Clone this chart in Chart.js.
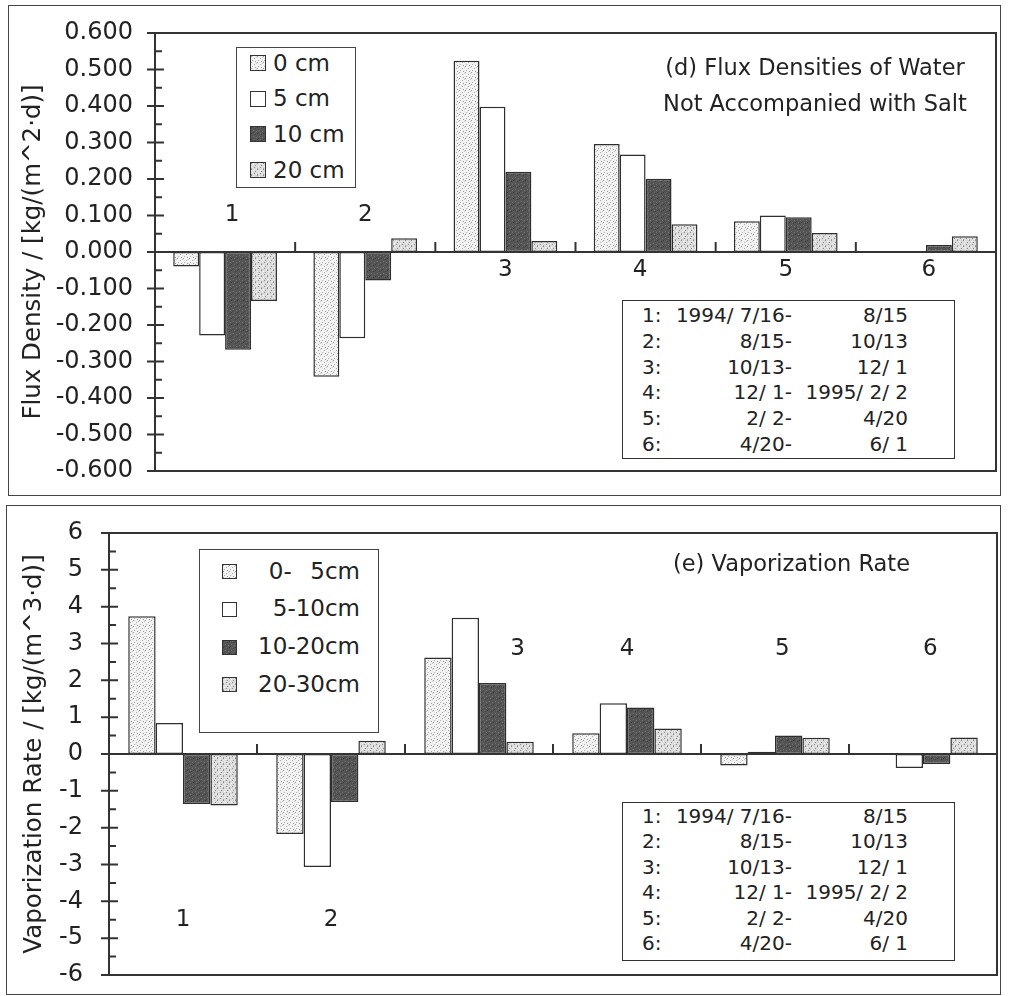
<!DOCTYPE html>
<html lang="en">
<head>
  <meta charset="UTF-8" />
  <title>Flux densities and vaporization rate</title>
  <script src="https://cdn.jsdelivr.net/npm/chart.js"></script>
  <style>
    body { margin: 0; background: #fff; font-family: "DejaVu Sans", sans-serif; color: #222; }
    .panel { position: absolute; border: 1.5px solid #444; box-sizing: border-box; }
    .panel canvas { position: absolute; left: 0; top: 0; }
    .abs { position: absolute; white-space: pre; line-height: 1; }
    .legend { position: absolute; border: 1.5px solid #444; background: #fff; box-sizing: border-box; }
    .sw { position: absolute; border: 1.5px solid #333; box-sizing: border-box; }
    .table { position: absolute; border: 1.5px solid #333; background: #fff; box-sizing: border-box; }
  </style>
</head>
<body>
  <div class="panel" style="left:8px;top:5px;width:993px;height:491px">
    <canvas id="fluxChart" width="990" height="488"></canvas>
  </div>
  <div class="panel" style="left:6px;top:505px;width:995px;height:490px">
    <canvas id="vapChart" width="992" height="487"></canvas>
  </div>
  <div id="overlay"></div>

  <script>
    // --- data ---
    const periods = ['1', '2', '3', '4', '5', '6'];
    const periodStart = ['1994/ 7/16-', '8/15-', '10/13-', '12/ 1-', '2/ 2-', '4/20-'];
    const periodEnd = ['8/15', '10/13', '12/ 1', '1995/ 2/ 2', '4/20', '6/ 1'];

    const depthNames = ['0 cm', '5 cm', '10 cm', '20 cm'];
    const flux0 = [-0.040, -0.342, 0.524, 0.296, 0.084, 0];
    const flux5 = [-0.229, -0.236, 0.398, 0.267, 0.100, 0];
    const flux10 = [-0.268, -0.078, 0.220, 0.201, 0.095, 0.019];
    const flux20 = [-0.134, 0.038, 0.030, 0.076, 0.052, 0.043];

    const layerNames = ['0-  5cm', '5-10cm', '10-20cm', '20-30cm'];
    const vap0to5 = [3.74, -2.17, 2.62, 0.56, -0.31, 0];
    const vap5to10 = [0.84, -3.07, 3.70, 1.38, 0.06, -0.38];
    const vap10to20 = [-1.36, -1.30, 1.93, 1.26, 0.50, -0.27];
    const vap20to30 = [-1.40, 0.36, 0.33, 0.69, 0.44, 0.45];

    // --- stipple fills like the scanned print ---
    function makeTile(bg, dots) {
      const c = document.createElement('canvas');
      c.width = 6; c.height = 6;
      const g = c.getContext('2d');
      g.fillStyle = bg; g.fillRect(0, 0, 6, 6);
      dots.forEach(([x, y, col]) => { g.fillStyle = col; g.fillRect(x, y, 1, 1); });
      return c;
    }
    const tiles = [
      makeTile('#f2f2f2', [[0,0,'#999'],[3,2,'#aaa'],[1,4,'#b0b0b0'],[4,5,'#999'],[5,1,'#c4c4c4']]),
      makeTile('#ffffff', []),
      makeTile('#555555', [[0,0,'#3a3a3a'],[2,3,'#6e6e6e'],[4,1,'#404040'],[5,4,'#707070'],[1,5,'#454545'],[3,0,'#666']]),
      makeTile('#dcdcdc', [[0,0,'#8a8a8a'],[2,1,'#f6f6f6'],[4,2,'#909090'],[1,3,'#fafafa'],[3,4,'#8e8e8e'],[5,5,'#f0f0f0'],[0,5,'#a0a0a0']])
    ];
    function fills(ctx) { return tiles.map(t => ctx.createPattern(t, 'repeat')); }

    const frameTicks = {
      id: 'frameTicks',
      afterDatasetsDraw(chart, args, o) {
        const { ctx, chartArea: a, scales: { x, y } } = chart;
        ctx.save();
        ctx.strokeStyle = '#333';
        ctx.lineWidth = 2;
        ctx.strokeRect(a.left, a.top, a.width, a.height);
        const y0 = y.getPixelForValue(0);
        ctx.beginPath();
        ctx.moveTo(a.left, y0); ctx.lineTo(a.right, y0);
        // major ticks cross the axis, minor ticks inside
        const px = y.ticks.map(t => y.getPixelForValue(t.value));
        px.forEach((p, i) => {
          ctx.moveTo(a.left - 8, p); ctx.lineTo(a.left + 9, p);
          if (i > 0) {
            const m = (p + px[i - 1]) / 2;
            ctx.moveTo(a.left, m); ctx.lineTo(a.left + 7, m);
          }
        });
        // small ticks between periods, pointing up from zero line
        for (let i = 1; i < periods.length; i++) {
          const bx = (x.getPixelForValue(i - 1) + x.getPixelForValue(i)) / 2;
          ctx.moveTo(bx, y0); ctx.lineTo(bx, y0 - 10);
        }
        ctx.stroke();
        // period numbers
        ctx.fillStyle = '#222';
        ctx.font = '23px "DejaVu Sans"';
        ctx.textAlign = 'center';
        ctx.textBaseline = 'middle';
        const w = x.getPixelForValue(1) - x.getPixelForValue(0);
        periods.forEach((p, i) => {
          ctx.fillText(p, x.getPixelForValue(i) + o.shift[i] * w, y.getPixelForValue(o.at[i]));
        });
        ctx.restore();
      }
    };

    function barChart(id, names, series, yOpt, marks) {
      const ctx = document.getElementById(id).getContext('2d');
      const pats = fills(ctx);
      return new Chart(ctx, {
        type: 'bar',
        data: {
          labels: periods,
          datasets: series.map((s, i) => ({
            label: names[i], data: s, backgroundColor: pats[i],
            borderColor: '#2e2e2e', borderWidth: 1.5, borderSkipped: false
          }))
        },
        options: {
          responsive: false, animation: false, events: [],
          layout: { padding: yOpt.pad },
          datasets: { bar: { categoryPercentage: 0.74, barPercentage: 1 } },
          plugins: { legend: { display: false }, tooltip: { enabled: false }, frameTicks: marks },
          scales: {
            x: { display: false },
            y: {
              min: yOpt.min, max: yOpt.max,
              afterFit: axis => { axis.width = yOpt.axisWidth; },
              // tickLength only spaces the labels; ticks themselves come from the plugin
              grid: { display: false, drawTicks: true, tickLength: yOpt.labelGap },
              border: { display: false },
              ticks: { stepSize: yOpt.step, padding: 0, color: '#222',
                       font: { family: 'DejaVu Sans', size: 24 }, callback: yOpt.fmt },
              title: { display: true, text: yOpt.title, color: '#222',
                       font: { family: 'DejaVu Sans', size: 24.5 }, padding: { top: yOpt.titlePad } }
            }
          }
        },
        plugins: [frameTicks]
      });
    }

    barChart('fluxChart', depthNames, [flux0, flux5, flux10, flux20], {
      min: -0.6, max: 0.6, step: 0.1, fmt: v => v.toFixed(3),
      title: 'Flux Density / [kg/(m^2·d)]',
      axisWidth: 146, labelGap: 22, titlePad: 10,
      pad: { top: 27, right: 3, bottom: 23, left: 0 }
    }, { at: [0.10, 0.10, -0.05, -0.05, -0.05, -0.05], shift: [0.05, 0, 0, -0.04, 0, 0.02] });

    barChart('vapChart', layerNames, [vap0to5, vap5to10, vap10to20, vap20to30], {
      min: -6, max: 6, step: 1, fmt: v => String(v),
      title: 'Vaporization Rate / [kg/(m^3·d)]',
      axisWidth: 102, labelGap: 26, titlePad: 13,
      pad: { top: 27, right: 2, bottom: 18, left: 0 }
    }, { at: [-4.5, -4.5, 2.85, 2.85, 2.85, 2.85], shift: [0, 0, 0.26, 0, 0.05, 0.05] });

    // --- legends, titles and period tables as real text ---
    const overlay = document.getElementById('overlay');
    function put(html) { overlay.insertAdjacentHTML('beforeend', html); }
    const tileUrls = tiles.map(t => t.toDataURL());

    put('<div class="legend" style="left:236px;top:47px;width:120px;height:141px"></div>');
    depthNames.forEach((n, i) => {
      const cy = 63 + i * 35.7;
      put(`<div class="sw" style="left:250px;top:${cy - 8}px;width:16px;height:16px;background:url(${tileUrls[i]})"></div>`);
      put(`<div class="abs" style="left:273px;top:${cy - 11.5}px;font-size:23px">${n}</div>`);
    });

    put('<div class="legend" style="left:199px;top:549px;width:180px;height:184px"></div>');
    layerNames.forEach((n, i) => {
      const cy = 571 + i * 37.8;
      put(`<div class="sw" style="left:222px;top:${cy - 7}px;width:15px;height:15px;background:url(${tileUrls[i]})"></div>`);
      put(`<div class="abs" style="right:${1015 - 360}px;top:${cy - 11.5}px;font-size:23px;word-spacing:2px">${n}</div>`);
    });

    put('<div class="abs" style="left:640px;width:350px;top:56px;font-size:22.5px;text-align:center">(d) Flux Densities of Water</div>');
    put('<div class="abs" style="left:640px;width:350px;top:92px;font-size:22.5px;text-align:center">Not Accompanied with Salt</div>');
    put('<div class="abs" style="left:673px;top:552px;font-size:22.5px">(e) Vaporization Rate</div>');

    function periodTable(top, rowTop, rowStep) {
      put(`<div class="table" style="left:622px;top:${top}px;width:333px;height:159px"></div>`);
      periods.forEach((p, i) => {
        const t = rowTop + i * rowStep - 10;
        put(`<div class="abs" style="left:642px;top:${t}px;font-size:20px">${p}:</div>`);
        put(`<div class="abs" style="right:${1015 - 792}px;top:${t}px;font-size:20px">${periodStart[i]}</div>`);
        put(`<div class="abs" style="right:${1015 - 908}px;top:${t}px;font-size:20px">${periodEnd[i]}</div>`);
      });
    }
    periodTable(300, 315, 25.8);
    periodTable(802, 816, 25.4);
  </script>
</body>
</html>
